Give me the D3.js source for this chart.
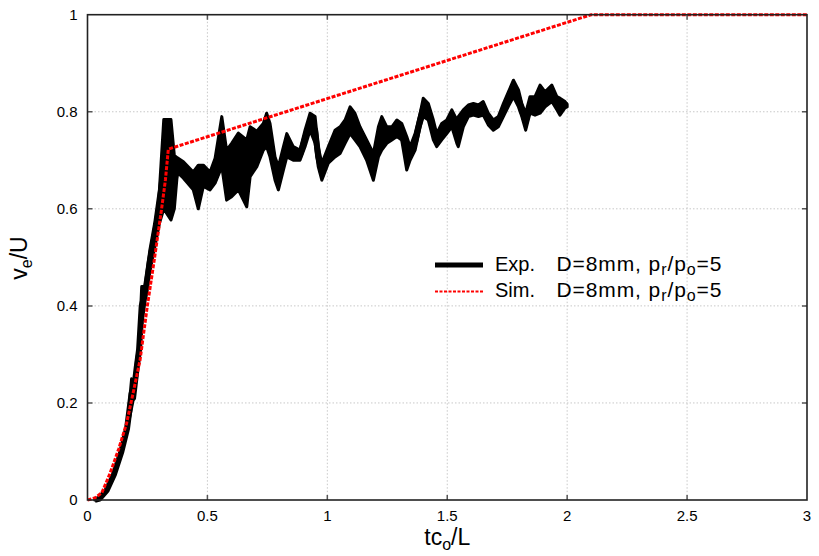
<!DOCTYPE html>
<html>
<head>
<meta charset="utf-8">
<script src="https://d3js.org/d3.v7.min.js"></script>
<style>
  body { margin: 0; background: #fff; }
  text { font-family: "Liberation Sans", Arial, sans-serif; fill: #000; }
</style>
</head>
<body>
<div id="chart"></div>
<script>
// experiment: time, upper and lower edge of the noisy trace
var expT = [0.03, 0.05, 0.08, 0.11, 0.14, 0.165, 0.184, 0.19, 0.205, 0.215, 0.226, 0.24, 0.26, 0.28, 0.30,
    0.318, 0.348, 0.362, 0.375, 0.40, 0.441, 0.462, 0.483, 0.511, 0.532, 0.56, 0.58, 0.601, 0.629, 0.664,
    0.678, 0.706, 0.733, 0.747, 0.761, 0.782, 0.796, 0.817, 0.831, 0.858, 0.886, 0.907, 0.928, 0.949, 0.962,
    0.977, 1.004, 1.032, 1.053, 1.074, 1.095, 1.115, 1.136, 1.164, 1.192, 1.213, 1.227, 1.248, 1.269, 1.29,
    1.31, 1.331, 1.345, 1.366, 1.387, 1.40, 1.421, 1.442, 1.456, 1.477, 1.498, 1.519, 1.54, 1.546, 1.567,
    1.588, 1.609, 1.63, 1.65, 1.671, 1.692, 1.713, 1.734, 1.755, 1.776, 1.797, 1.811, 1.827, 1.845, 1.866,
    1.887, 1.908, 1.936, 1.957, 1.97, 1.991, 2.0];
var expHi = [0.0, 0.004, 0.022, 0.055, 0.10, 0.15, 0.25, 0.215, 0.29, 0.32, 0.44, 0.44, 0.515, 0.57, 0.64,
    0.784, 0.784, 0.71, 0.705, 0.697, 0.676, 0.69, 0.69, 0.676, 0.704, 0.79, 0.721, 0.735, 0.756, 0.742,
    0.769, 0.76, 0.776, 0.797, 0.776, 0.707, 0.687, 0.728, 0.755, 0.728, 0.721, 0.762, 0.797, 0.79, 0.728,
    0.694, 0.728, 0.762, 0.769, 0.783, 0.81, 0.797, 0.769, 0.742, 0.714, 0.769, 0.79, 0.769, 0.769, 0.783,
    0.776, 0.749, 0.728, 0.755, 0.797, 0.828, 0.817, 0.783, 0.755, 0.776, 0.783, 0.804, 0.783, 0.79, 0.804,
    0.814, 0.817, 0.814, 0.821, 0.797, 0.783, 0.79, 0.817, 0.841, 0.865, 0.845, 0.817, 0.797, 0.831, 0.831,
    0.855, 0.841, 0.855, 0.831, 0.828, 0.821, 0.815];
var expLo = [0.0, 0.002, 0.018, 0.05, 0.095, 0.145, 0.19, 0.205, 0.255, 0.30, 0.36, 0.41, 0.47, 0.52, 0.57,
    0.60, 0.577, 0.60, 0.675, 0.663, 0.639, 0.60, 0.646, 0.639, 0.653, 0.687, 0.618, 0.625, 0.639, 0.604,
    0.666, 0.687, 0.721, 0.728, 0.707, 0.659, 0.639, 0.68, 0.707, 0.70, 0.70, 0.728, 0.762, 0.735, 0.687,
    0.659, 0.694, 0.707, 0.714, 0.735, 0.755, 0.742, 0.728, 0.70, 0.659, 0.707, 0.721, 0.735, 0.742, 0.749,
    0.742, 0.68, 0.70, 0.721, 0.769, 0.79, 0.783, 0.742, 0.728, 0.742, 0.755, 0.769, 0.735, 0.728, 0.769,
    0.79, 0.793, 0.79, 0.793, 0.773, 0.762, 0.769, 0.79, 0.811, 0.831, 0.81, 0.79, 0.762, 0.797, 0.793,
    0.797, 0.81, 0.821, 0.804, 0.793, 0.808, 0.81];

// simulation
var simT = [0, 0.03, 0.06, 0.094, 0.13, 0.163, 0.19, 0.219, 0.249, 0.28, 0.309, 0.325, 0.337, 2.10, 3.0];
var simV = [0, 0.004, 0.015, 0.055, 0.105, 0.158, 0.22, 0.288, 0.398, 0.50, 0.60, 0.66, 0.723, 1.0, 1.0];

var xTicks = [0, 0.5, 1, 1.5, 2, 2.5, 3];
var xTickLabels = ['0', '0.5', '1', '1.5', '2', '2.5', '3'];
var yTicks = [0, 0.2, 0.4, 0.6, 0.8, 1];
var yTickLabels = ['0', '0.2', '0.4', '0.6', '0.8', '1'];

var width = 819, height = 556;
var margin = {top: 14.7, right: 12, bottom: 56, left: 87.5};
var w = width - margin.left - margin.right;
var h = height - margin.top - margin.bottom;

var svg = d3.select('#chart').append('svg')
    .attr('width', width)
    .attr('height', height);

var g = svg.append('g')
    .attr('transform', 'translate(' + margin.left + ',' + margin.top + ')');

var x = d3.scaleLinear().domain([0, 3]).range([0, w]);
var y = d3.scaleLinear().domain([0, 1]).range([h, 0]);

// grid
g.selectAll('.vgrid')
    .data(xTicks.slice(1, -1)).enter()
    .append('line')
    .attr('class', 'vgrid')
    .attr('x1', function(d) { return x(d); })
    .attr('x2', function(d) { return x(d); })
    .attr('y1', 0).attr('y2', h)
    .style('stroke', '#c8c8c8')
    .style('stroke-width', 1)
    .style('stroke-dasharray', '1.5,2');

g.selectAll('.hgrid')
    .data(yTicks.slice(1, -1)).enter()
    .append('line')
    .attr('class', 'hgrid')
    .attr('y1', function(d) { return y(d); })
    .attr('y2', function(d) { return y(d); })
    .attr('x1', 0).attr('x2', w)
    .style('stroke', '#c8c8c8')
    .style('stroke-width', 1)
    .style('stroke-dasharray', '1.5,2');

// experimental trace drawn as a band plus a thick centre line
var expData = expT.map(function(t, i) { return {t: t, hi: expHi[i], lo: expLo[i]}; });

var area = d3.area()
    .x(function(d) { return x(d.t); })
    .y0(function(d) { return y(d.lo); })
    .y1(function(d) { return y(d.hi); });

g.append('path')
    .datum(expData)
    .attr('d', area)
    .style('fill', '#000')
    .style('stroke', '#000')
    .style('stroke-width', 3)
    .style('stroke-linejoin', 'round');

g.append('path')
    .datum(expData)
    .attr('d', d3.line()
        .x(function(d) { return x(d.t); })
        .y(function(d) { return y((d.hi + d.lo) / 2); }))
    .style('fill', 'none')
    .style('stroke', '#000')
    .style('stroke-width', 6)
    .style('stroke-linejoin', 'round');

// simulation line
g.append('path')
    .datum(simT.map(function(t, i) { return [t, simV[i]]; }))
    .attr('d', d3.line()
        .x(function(d) { return x(d[0]); })
        .y(function(d) { return y(d[1]); }))
    .style('fill', 'none')
    .style('stroke', '#ff0000')
    .style('stroke-width', 3)
    .style('stroke-dasharray', '4,1.5');

// frame and ticks (mirrored, pointing inward)
var tickLen = 5;
g.selectAll('.xt')
    .data(xTicks.slice(1, -1)).enter()
    .append('path')
    .attr('class', 'xt')
    .attr('d', function(d) {
        return 'M' + x(d) + ',' + h + 'v' + (-tickLen) + 'M' + x(d) + ',0v' + tickLen;
    })
    .style('stroke', '#555')
    .style('stroke-width', 1.5);

g.selectAll('.yt')
    .data(yTicks.slice(1, -1)).enter()
    .append('path')
    .attr('class', 'yt')
    .attr('d', function(d) {
        return 'M0,' + y(d) + 'h' + tickLen + 'M' + w + ',' + y(d) + 'h' + (-tickLen);
    })
    .style('stroke', '#555')
    .style('stroke-width', 1.5);

g.append('rect')
    .attr('width', w)
    .attr('height', h)
    .style('fill', 'none')
    .style('stroke', '#222')
    .style('stroke-width', 1.6);

// tick labels
g.selectAll('.xlabel')
    .data(xTicks).enter()
    .append('text')
    .attr('class', 'xlabel')
    .attr('x', function(d) { return x(d); })
    .attr('y', h + 21)
    .attr('text-anchor', 'middle')
    .style('font-size', '15px')
    .text(function(d, i) { return xTickLabels[i]; });

g.selectAll('.ylabel')
    .data(yTicks).enter()
    .append('text')
    .attr('class', 'ylabel')
    .attr('x', -10)
    .attr('y', function(d) { return y(d); })
    .attr('dy', '0.35em')
    .attr('text-anchor', 'end')
    .style('font-size', '15px')
    .text(function(d, i) { return yTickLabels[i]; });

// axis titles
var xTitle = svg.append('text')
    .attr('x', margin.left + w / 2)
    .attr('y', 545)
    .attr('text-anchor', 'middle')
    .style('font-size', '23px');
xTitle.append('tspan').text('tc');
xTitle.append('tspan').attr('dy', 5).style('font-size', '16px').text('o');
xTitle.append('tspan').attr('dy', -5).text('/L');

var yTitle = svg.append('text')
    .attr('transform', 'translate(27,' + 258 + ') rotate(-90)')
    .attr('text-anchor', 'middle')
    .style('font-size', '23px');
yTitle.append('tspan').text('v');
yTitle.append('tspan').attr('dy', 5).style('font-size', '16px').text('e');
yTitle.append('tspan').attr('dy', -5).text('/U');

// legend
var legendRows = [
    {name: 'Exp.', y: 265, color: '#000', width: 5, dash: null},
    {name: 'Sim.', y: 291.5, color: '#ff0000', width: 2, dash: '3,1.5'}
];

var legend = svg.selectAll('.legend')
    .data(legendRows).enter()
    .append('g')
    .attr('class', 'legend');

legend.append('line')
    .attr('x1', 435).attr('x2', 483)
    .attr('y1', function(d) { return d.y; })
    .attr('y2', function(d) { return d.y; })
    .style('stroke', function(d) { return d.color; })
    .style('stroke-width', function(d) { return d.width; })
    .style('stroke-dasharray', function(d) { return d.dash; });

legend.append('text')
    .attr('x', 495)
    .attr('y', function(d) { return d.y + 5.5; })
    .style('font-size', '20px')
    .text(function(d) { return d.name; });

// the rest of the key text, subscripts as lowered tspans
var keyText = legend.append('text')
    .attr('x', 556.5)
    .attr('y', function(d) { return d.y + 5.5; })
    .style('font-size', '21px')
    .style('letter-spacing', '0.9px');
keyText.append('tspan').text('D=8mm, p');
keyText.append('tspan').attr('dy', 4).style('font-size', '16px').text('r');
keyText.append('tspan').attr('dy', -4).text('/p');
keyText.append('tspan').attr('dy', 4).style('font-size', '16px').text('o');
keyText.append('tspan').attr('dy', -4).text('=5');
</script>
</body>
</html>
